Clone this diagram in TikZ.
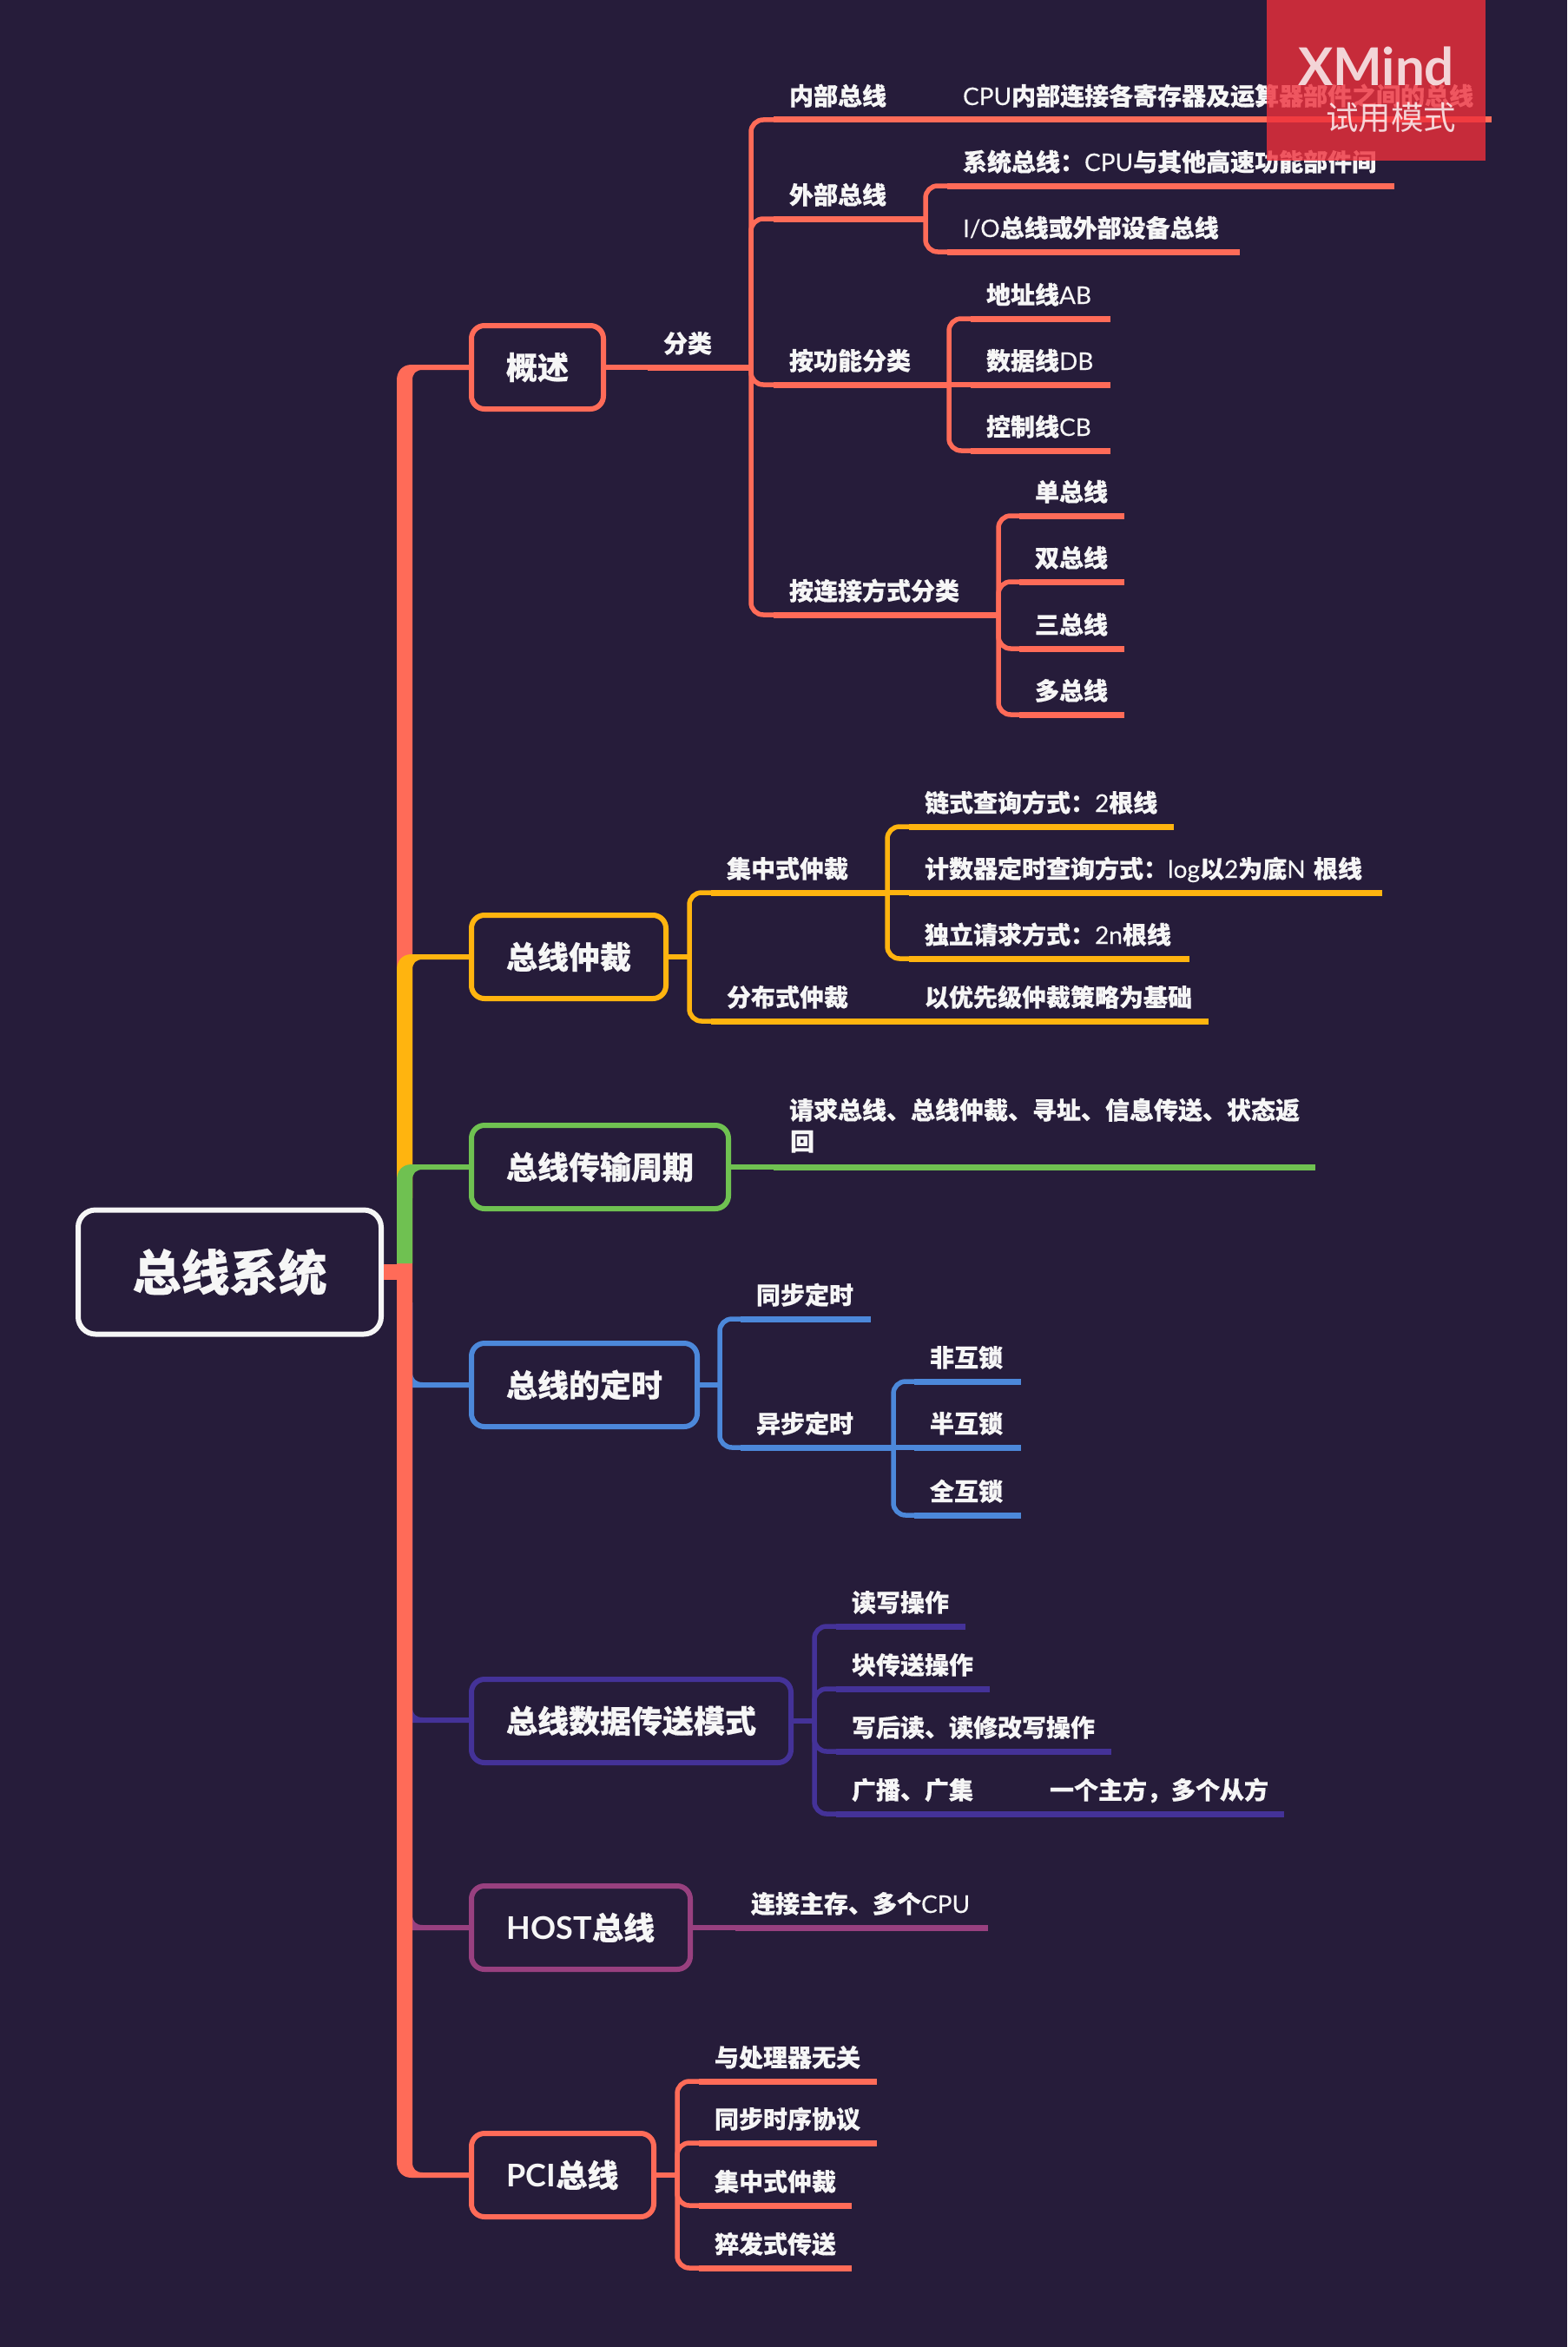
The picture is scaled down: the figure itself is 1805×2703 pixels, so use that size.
\documentclass[tikz,border=0pt]{standalone}
\usepackage{fontspec}
\setmainfont{Noto Sans CJK SC}[BoldFeatures={FakeBold=0.5}]
\newfontfamily\latfont{Lato}
\newfontfamily\latmed{Lato}[FakeBold=0.25]
\newcommand{\lat}[1]{{\latmed\mdseries #1}}
\newcommand{\qcolon}{\symbol{"FF1A}}
\newcommand{\qcomma}{\symbol{"FF0C}}
\definecolor{bgdark}{HTML}{261C3A}
\definecolor{coralc}{HTML}{FF6B58}
\definecolor{amberc}{HTML}{FFB40F}
\definecolor{greenc}{HTML}{6FC151}
\definecolor{bluec}{HTML}{4C88DA}
\definecolor{indigoc}{HTML}{443298}
\definecolor{plumc}{HTML}{98407F}
\definecolor{markred}{HTML}{EE2F3B}
\definecolor{inkc}{HTML}{F6F6F6}
\tikzset{
  rootbox/.style={draw=inkc,text=inkc,line width=6pt,rounded corners=20pt,minimum width=349pt,minimum height=143pt,
    anchor=west,font=\bfseries\fontsize{56}{60}\selectfont},
  topic/.style={draw=#1,text=inkc,line width=6pt,rounded corners=15pt,minimum height=96pt,anchor=west,
    font=\bfseries\fontsize{36}{40}\selectfont},
  leaf/.style={text=inkc,anchor=south west,inner xsep=19pt,inner ysep=0pt,outer sep=0pt,text height=21pt,text depth=17pt,
    text width=#1pt,align=left,font=\bfseries\fontsize{28}{36}\selectfont,execute at begin node=\hspace*{-1pt}},
  conn/.style={line width=5.5pt,rounded corners=14pt},
  uline/.style={line width=7pt},
}
\newcommand{\branch}[3]{
  \draw[conn,#1] (#2) |- (#3.south west);
  \draw[uline,#1] (#3.south west) -- (#3.south east);
}
\newcommand{\rail}[3]{
  \draw[conn,#1] (#2) -- (#3.south west);
  \draw[uline,#1] (#3.south west) -- (#3.south east);
}
\newcommand{\boughup}[3]{
  \fill[#1] (457,#3) -- (457,#2+15) .. controls (457,#2+5) and (463,#2-3) .. (474,#2-3) -- (541,#2-3) -- (541,#2+3)
    -- (487,#2+3) .. controls (479,#2+3) and (475,#2+7) .. (475,#2+15) -- (475,#3) -- cycle;
}
\newcommand{\boughdown}[3]{
  \fill[#1] (457,#3) -- (457,#2-15) .. controls (457,#2-5) and (463,#2+3) .. (474,#2+3) -- (541,#2+3) -- (541,#2-3)
    -- (487,#2-3) .. controls (479,#2-3) and (475,#2-7) .. (475,#2-15) -- (475,#3) -- cycle;
}
\begin{document}
\begin{tikzpicture}[x=1pt,y=-1pt]
  \fill[bgdark] (0,0) rectangle (1805,2703);
  \useasboundingbox (0,0) rectangle (1805,2703);

  \boughdown{bluec}{1595}{1500}
  \boughdown{indigoc}{1981}{1500}
  \boughdown{plumc}{2220}{1500}
  \boughdown{coralc}{2505}{1465}
  \boughup{coralc}{423}{1465}
  \boughup{amberc}{1102}{1380}
  \boughup{greenc}{1344}{1455}

  \node[rootbox] (root) at (87,1465) {总线系统};
  \draw[line width=18pt,coralc] (root.east) -- (457,1465);

  \node[topic=coralc,minimum width=152pt] (over) at (540,423) {概述};
  \node[topic=amberc,minimum width=224pt] (arb) at (540,1102) {总线仲裁};
  \node[topic=greenc,minimum width=296pt] (cycle) at (540,1344) {总线传输周期};
  \node[topic=bluec,minimum width=260pt] (timing) at (540,1595) {总线的定时};
  \node[topic=indigoc,minimum width=368pt] (mode) at (540,1982) {总线数据传送模式};
  \node[topic=plumc,minimum width=252pt] (host) at (540,2220) {{\latfont HOST}总线};
  \node[topic=coralc,minimum width=210pt] (pci) at (540,2505) {{\latfont PCI}总线};

  \node[leaf=81] (cls) at (746,423) {分类};
  \node[leaf=162] (inner) at (891,138) {内部总线};
  \node[leaf=589] (cpuin) at (1091,138) {\lat{CPU}内部连接各寄存器及运算器部件之间的总线};
  \node[leaf=137] (outer) at (891,252) {外部总线};
  \node[leaf=477] (sysbus) at (1091,214) {系统总线\qcolon\lat{CPU}与其他高速功能部件间};
  \node[leaf=299] (iobus) at (1091,290) {\lat{I/O}总线或外部设备总线};
  \node[leaf=164] (func) at (891,443) {按功能分类};
  \node[leaf=123] (addr) at (1118,367) {地址线\lat{AB}};
  \node[leaf=123] (databus) at (1118,443) {数据线\lat{DB}};
  \node[leaf=123] (ctrl) at (1118,519) {控制线\lat{CB}};
  \node[leaf=221] (link) at (891,708) {按连接方式分类};
  \node[leaf=83] (single) at (1174,594) {单总线};
  \node[leaf=83] (double) at (1174,670) {双总线};
  \node[leaf=83] (triple) at (1174,747) {三总线};
  \node[leaf=83] (multi) at (1174,823) {多总线};

  \draw[conn,coralc] (over.east) -- (cls.south west);
  \draw[uline,coralc] (cls.south west) -- (cls.south east);
  \branch{coralc}{cls.south east}{inner}
  \rail{coralc}{inner.south east}{cpuin}
  \branch{coralc}{cls.south east}{outer}
  \branch{coralc}{outer.south east}{sysbus}
  \branch{coralc}{outer.south east}{iobus}
  \branch{coralc}{cls.south east}{func}
  \branch{coralc}{func.south east}{addr}
  \rail{coralc}{func.south east}{databus}
  \branch{coralc}{func.south east}{ctrl}
  \branch{coralc}{cls.south east}{link}
  \branch{coralc}{link.south east}{single}
  \branch{coralc}{link.south east}{double}
  \branch{coralc}{link.south east}{triple}
  \branch{coralc}{link.south east}{multi}

  \coordinate (arbfork) at (794,1102);
  \node[leaf=165] (central) at (819,1028) {集中式仲裁};
  \node[leaf=190] (dist) at (819,1176) {分布式仲裁};
  \node[leaf=267] (chain) at (1047,952) {链式查询方式\qcolon\lat{2}根线};
  \node[leaf=507] (counter) at (1047,1028) {计数器定时查询方式\qcolon\lat{log}以\lat{2}为底\lat{N} 根线};
  \node[leaf=285] (indep) at (1047,1104) {独立请求方式\qcolon\lat{2n}根线};
  \node[leaf=307] (prio) at (1047,1176) {以优先级仲裁策略为基础};

  \draw[conn,amberc] (arb.east) -- (arbfork);
  \branch{amberc}{arbfork}{central}
  \branch{amberc}{arbfork}{dist}
  \branch{amberc}{central.south east}{chain}
  \rail{amberc}{central.south east}{counter}
  \branch{amberc}{central.south east}{indep}
  \rail{amberc}{dist.south east}{prio}

  \node[leaf=586,text height=0pt,text depth=0pt,inner ysep=55pt] (phases) at (891,1344) {请求总线、总线仲裁、寻址、信息传送、状态返\\回};
  \rail{greenc}{cycle.east}{phases}

  \coordinate (timefork) at (829,1595);
  \node[leaf=112] (syncbus) at (853,1519) {同步定时};
  \node[leaf=138] (asyncbus) at (853,1667) {异步定时};
  \node[leaf=85] (nolock) at (1053,1591) {非互锁};
  \node[leaf=85] (halflock) at (1053,1667) {半互锁};
  \node[leaf=85] (fulllock) at (1053,1745) {全互锁};

  \draw[conn,bluec] (timing.east) -- (timefork);
  \branch{bluec}{timefork}{syncbus}
  \branch{bluec}{timefork}{asyncbus}
  \branch{bluec}{asyncbus.south east}{nolock}
  \rail{bluec}{asyncbus.south east}{halflock}
  \branch{bluec}{asyncbus.south east}{fulllock}

  \coordinate (modefork) at (938,1982);
  \node[leaf=111] (rw) at (963,1873) {读写操作};
  \node[leaf=139] (block) at (963,1945) {块传送操作};
  \node[leaf=279] (rmw) at (963,2017) {写后读、读修改写操作};
  \node[leaf=190] (bcast) at (963,2089) {广播、广集};
  \node[leaf=250] (onemaster) at (1191,2089) {一个主方\qcomma 多个从方};

  \draw[conn,indigoc] (mode.east) -- (modefork);
  \branch{indigoc}{modefork}{rw}
  \branch{indigoc}{modefork}{block}
  \branch{indigoc}{modefork}{rmw}
  \branch{indigoc}{modefork}{bcast}
  \rail{indigoc}{bcast.south east}{onemaster}

  \node[leaf=253] (mainmem) at (847,2220) {连接主存、多个\lat{CPU}};
  \rail{plumc}{host.east}{mainmem}

  \coordinate (pcifork) at (780,2505);
  \node[leaf=167] (indepcpu) at (805,2397) {与处理器无关};
  \node[leaf=167] (syncproto) at (805,2468) {同步时序协议};
  \node[leaf=138] (centarb) at (805,2540) {集中式仲裁};
  \node[leaf=138] (burst) at (805,2612) {猝发式传送};

  \draw[conn,coralc] (pci.east) -- (pcifork);
  \branch{coralc}{pcifork}{indepcpu}
  \branch{coralc}{pcifork}{syncproto}
  \branch{coralc}{pcifork}{centarb}
  \branch{coralc}{pcifork}{burst}

  \fill[markred,opacity=.8] (1459,0) rectangle (1711,185);
  \node[text=white,text opacity=.8,font=\latfont\bfseries\fontsize{60}{64}\selectfont] (markname) at (1585,76) {XMind};
  \node[text=white,text opacity=.8,font=\fontsize{37.5}{40}\selectfont] (marktrial) at (1602,135) {试用模式};
\end{tikzpicture}
\end{document}
